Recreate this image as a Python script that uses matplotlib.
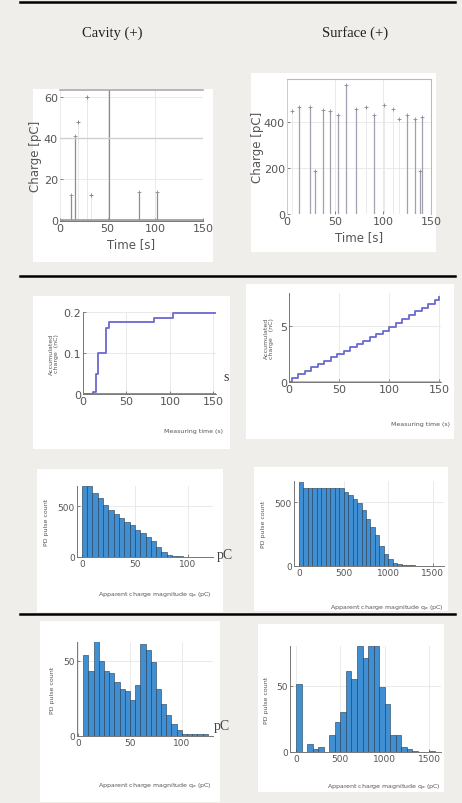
import numpy as np
import matplotlib
matplotlib.use('Agg')
import matplotlib.pyplot as plt
from matplotlib.patches import Rectangle
from matplotlib.lines import Line2D

W, H = 462, 804

# row 1: charge vs time (stems)
cav_stem_t = [12, 16, 51, 83, 102]
cav_stem_q = [12, 41, 70, 13.5, 13.5]
cav_dot_t = [19, 28, 33]
cav_dot_q = [48, 60, 12]

sur_stem_t = [13, 24, 29, 37, 45, 53, 61, 72, 91, 125, 133, 139, 141]
sur_stem_q = [468, 468, 188, 456, 450, 431, 563, 460, 431, 431, 416, 188, 424]
sur_dot_t = [5, 82, 101, 110, 117]
sur_dot_q = [449, 468, 475, 460, 416]

# row 2: accumulated charge (nC)
cav_acc_t = [0, 12, 15, 17, 26, 30, 82, 103, 152]
cav_acc_q = [0, 0.004, 0.05, 0.1, 0.16, 0.175, 0.185, 0.197, 0.197]

sur_acc_t = [0, 3, 9, 16, 22, 29, 35, 42, 48, 55, 61, 68, 74, 81, 87, 94, 100,
             107, 113, 120, 126, 133, 139, 146, 150]
sur_acc_q = [0, 0.4, 0.7, 1.0, 1.3, 1.6, 1.9, 2.2, 2.5, 2.8, 3.1, 3.4, 3.7, 4.0,
             4.3, 4.6, 4.9, 5.25, 5.6, 5.95, 6.3, 6.65, 7.0, 7.35, 7.6]

# row 3: pulse count histograms
cav_h1_bin = 5
cav_h1_counts = [700, 700, 630, 580, 515, 465, 420, 385, 350, 320, 270, 240, 200,
                 155, 100, 50, 20, 10, 6, 4, 2, 1, 1, 0, 1]
sur_h1_bin = 50
sur_h1_counts = [660, 610, 610, 610, 610, 610, 610, 610, 610, 610, 580, 555, 525,
                 490, 435, 370, 305, 240, 160, 95, 55, 25, 12, 8, 5, 4, 3, 2, 2,
                 1, 1, 1, 0]

# row 4: pulse count histograms
cav_h2_start = 5
cav_h2_bin = 5
cav_h2_counts = [54, 43, 63, 50, 43, 42, 36, 31, 30, 24, 34, 61, 57, 49, 31, 21,
                 14, 8, 4, 1, 1, 1, 1, 1]
sur_h2_bin = 62.5
sur_h2_counts = [51, 0, 6, 2, 4, 0, 13, 23, 30, 61, 55, 80, 71, 80, 80, 49, 36,
                 13, 13, 4, 2, 1, 0, 0, 1]

bar_color = '#3f8fd2'
bar_edge = '#24384f'
step_color = '#6a6ad0'
stem_color = '#8e8e8e'
bg = '#efeeea'


def fbox(l, t, r, b):
    return [l / W, 1 - b / H, (r - l) / W, (b - t) / H]


def panel(fig, l, t, r, b):
    fig.add_artist(Rectangle((l / W, 1 - b / H), (r - l) / W, (b - t) / H,
                             transform=fig.transFigure, facecolor='white',
                             edgecolor='none', zorder=0))


def rule(fig, y):
    fig.add_artist(Line2D([20 / W, 455 / W], [1 - y / H, 1 - y / H],
                          transform=fig.transFigure, color='black', lw=1.8))


def ftext(fig, x, y, s, **kw):
    fig.text(x / W, 1 - y / H, s, **kw)


def style(ax, size):
    ax.tick_params(labelsize=size, length=2, width=0.5, direction='in',
                   colors='#555555', pad=1.5)
    for side in ['top', 'right']:
        ax.spines[side].set_visible(False)
    for side in ['left', 'bottom']:
        ax.spines[side].set_color('#777777')
        ax.spines[side].set_linewidth(0.7)
    ax.grid(color='#e6e6e6', lw=0.6)
    ax.set_axisbelow(True)


def small_xlabel(ax, text, x, y, ha):
    ax.set_xlabel(text, fontsize=4.5, color='#555555')
    ax.xaxis.set_label_coords(x, y)
    ax.xaxis.label.set_ha(ha)


fig = plt.figure(figsize=(W / 100, H / 100), dpi=100)
fig.patch.set_facecolor(bg)

for y in [3, 277, 615]:
    rule(fig, y)

ftext(fig, 112, 33, 'Cavity (+)', family='Liberation Serif', fontsize=10.5,
      ha='center', va='center', color='#222222')
ftext(fig, 355, 33, 'Surface (+)', family='Liberation Serif', fontsize=10.5,
      ha='center', va='center', color='#222222')

# ---------------- row 1 -----------------
panel(fig, 33, 90, 213, 263)
ax = fig.add_axes(fbox(60, 91, 203, 222))
ax.vlines(cav_stem_t, 0, cav_stem_q, color=stem_color, lw=0.9)
ax.vlines(cav_dot_t, 0, cav_dot_q, color='#e4e4e4', lw=0.6)
ax.plot(cav_stem_t[:2] + cav_stem_t[3:], cav_stem_q[:2] + cav_stem_q[3:], '+',
        color=stem_color, ms=3, mew=0.6)
ax.plot(cav_dot_t, cav_dot_q, '+', color='#888888', ms=3.5, mew=0.7)
ax.axhline(0, color='#999999', lw=1.2)
ax.set_xlim(0, 150)
ax.set_ylim(-0.5, 63.5)
ax.set_xticks([0, 50, 100, 150])
ax.set_yticks([0, 20, 40, 60])
style(ax, 8)
ax.spines['top'].set_visible(True)
ax.spines['top'].set_color('#aaaaaa')
ax.spines['top'].set_linewidth(1.2)
ax.spines['left'].set_visible(False)
ax.axhline(40, color='#d0d0d0', lw=1.0)
ax.set_xlabel('Time [s]', fontsize=8.5, color='#555555', labelpad=3)
ax.set_ylabel('Charge [pC]', fontsize=8.5, color='#555555', labelpad=1)

panel(fig, 251, 74, 436, 253)
ax = fig.add_axes(fbox(287, 80, 431, 215))
ax.vlines(sur_stem_t, 0, sur_stem_q, color='#a0a0b0', lw=0.9)
ax.vlines(sur_dot_t, 0, sur_dot_q, color='#e6e6e6', lw=0.6)
ax.plot(sur_stem_t, sur_stem_q, '+', color='#8a8a9a', ms=3, mew=0.6)
ax.plot(sur_dot_t, sur_dot_q, '+', color='#8a8a8a', ms=3, mew=0.6)
ax.set_xlim(0, 150)
ax.set_ylim(0, 590)
ax.set_xticks([0, 50, 100, 150])
ax.set_yticks([0, 200, 400])
style(ax, 8)
ax.spines['top'].set_visible(True)
ax.spines['right'].set_visible(True)
for side in ['top', 'right']:
    ax.spines[side].set_color('#bbbbbb')
ax.spines['left'].set_color('#cccccc')
ax.spines['bottom'].set_visible(False)
ax.set_xlabel('Time [s]', fontsize=8.5, color='#555555', labelpad=3)
ax.set_ylabel('Charge [pC]', fontsize=8.5, color='#555555', labelpad=0)

# ---------------- row 2 -----------------
panel(fig, 33, 297, 230, 450)
ax = fig.add_axes(fbox(83, 313, 216, 395))
ax.axhline(0, color='#777799', lw=1.2)
ax.step(cav_acc_t, cav_acc_q, where='post', color=step_color, lw=1.3)
ax.set_xlim(0, 153)
ax.set_ylim(0, 0.2)
ax.set_xticks([0, 50, 100, 150])
ax.set_yticks([0, 0.1, 0.2])
ax.set_yticklabels(['0', '0.1', '0.2'])
style(ax, 8)
small_xlabel(ax, 'Measuring time (s)', 1.05, -0.42, 'right')
ax.set_ylabel('Accumulated\ncharge  (nC)', fontsize=4.5, color='#555555',
              labelpad=3, linespacing=1.0)
ftext(fig, 226, 378, 's', family='Liberation Serif', fontsize=10,
      ha='center', va='center', color='#333333')

panel(fig, 246, 285, 454, 440)
ax = fig.add_axes(fbox(289, 294, 441, 383))
ax.axhline(0, color='#aaaabb', lw=1.2)
ax.step(sur_acc_t, sur_acc_q, where='post', color=step_color, lw=1.3)
ax.set_xlim(0, 152)
ax.set_ylim(0, 7.95)
ax.set_xticks([0, 50, 100, 150])
ax.set_yticks([0, 5])
style(ax, 8)
small_xlabel(ax, 'Measuring time (s)', 1.06, -0.44, 'right')
ax.set_ylabel('Accumulated\ncharge   (nC)', fontsize=4.5, color='#555555',
              labelpad=4, linespacing=1.0)

# ---------------- row 3 -----------------
panel(fig, 37, 470, 223, 613)
ax = fig.add_axes(fbox(77, 487, 213, 558))
edges = cav_h1_bin * np.arange(len(cav_h1_counts))
ax.bar(edges, cav_h1_counts, width=cav_h1_bin, align='edge', color=bar_color,
       edgecolor=bar_edge, linewidth=0.4)
ax.set_xlim(-4.5, 123.5)
ax.set_ylim(0, 700)
ax.set_xticks([0, 50, 100])
ax.set_yticks([0, 500])
style(ax, 6.5)
small_xlabel(ax, 'Apparent charge magnitude q$_a$ (pC)', 0.57, -0.45, 'center')
ax.set_ylabel('PD pulse count', fontsize=4.5, color='#555555', labelpad=6)
ftext(fig, 225, 556, 'pC', family='Liberation Serif', fontsize=10,
      ha='center', va='center', color='#444444')

panel(fig, 254, 468, 448, 612)
ax = fig.add_axes(fbox(294, 482, 444, 567))
edges = sur_h1_bin * np.arange(len(sur_h1_counts))
ax.bar(edges, sur_h1_counts, width=sur_h1_bin, align='edge', color=bar_color,
       edgecolor=bar_edge, linewidth=0.4)
ax.set_xlim(-56, 1624)
ax.set_ylim(0, 665)
ax.set_xticks([0, 500, 1000, 1500])
ax.set_yticks([0, 500])
style(ax, 6.5)
small_xlabel(ax, 'Apparent charge magnitude q$_a$ (pC)', 1.0, -0.42, 'right')
ax.set_ylabel('PD pulse count', fontsize=4.5, color='#555555', labelpad=6)

# ---------------- row 4 -----------------
panel(fig, 40, 622, 220, 803)
ax = fig.add_axes(fbox(77, 643, 213, 737))
edges = cav_h2_start + cav_h2_bin * np.arange(len(cav_h2_counts))
ax.bar(edges, cav_h2_counts, width=cav_h2_bin, align='edge', color=bar_color,
       edgecolor=bar_edge, linewidth=0.4)
ax.set_xlim(-1, 130)
ax.set_ylim(0, 62.5)
ax.set_xticks([0, 50, 100])
ax.set_yticks([0, 50])
style(ax, 6.5)
small_xlabel(ax, 'Apparent charge magnitude q$_a$ (pC)', 0.57, -0.47, 'center')
ax.set_ylabel('PD pulse count', fontsize=4.5, color='#555555', labelpad=6)
ftext(fig, 222, 727, 'pC', family='Liberation Serif', fontsize=10,
      ha='center', va='center', color='#444444')

panel(fig, 258, 625, 444, 793)
ax = fig.add_axes(fbox(290, 647, 441, 753))
edges = sur_h2_bin * np.arange(len(sur_h2_counts))
ax.bar(edges, sur_h2_counts, width=sur_h2_bin, align='edge', color=bar_color,
       edgecolor=bar_edge, linewidth=0.4)
ax.set_xlim(-68, 1635)
ax.set_ylim(0, 80)
ax.set_xticks([0, 500, 1000, 1500])
ax.set_yticks([0, 50])
style(ax, 6.5)
small_xlabel(ax, 'Apparent charge magnitude q$_a$ (pC)', 1.0, -0.27, 'right')
ax.set_ylabel('PD pulse count', fontsize=4.5, color='#555555', labelpad=5)

fig.savefig('out.png', dpi=100, facecolor=fig.get_facecolor())
